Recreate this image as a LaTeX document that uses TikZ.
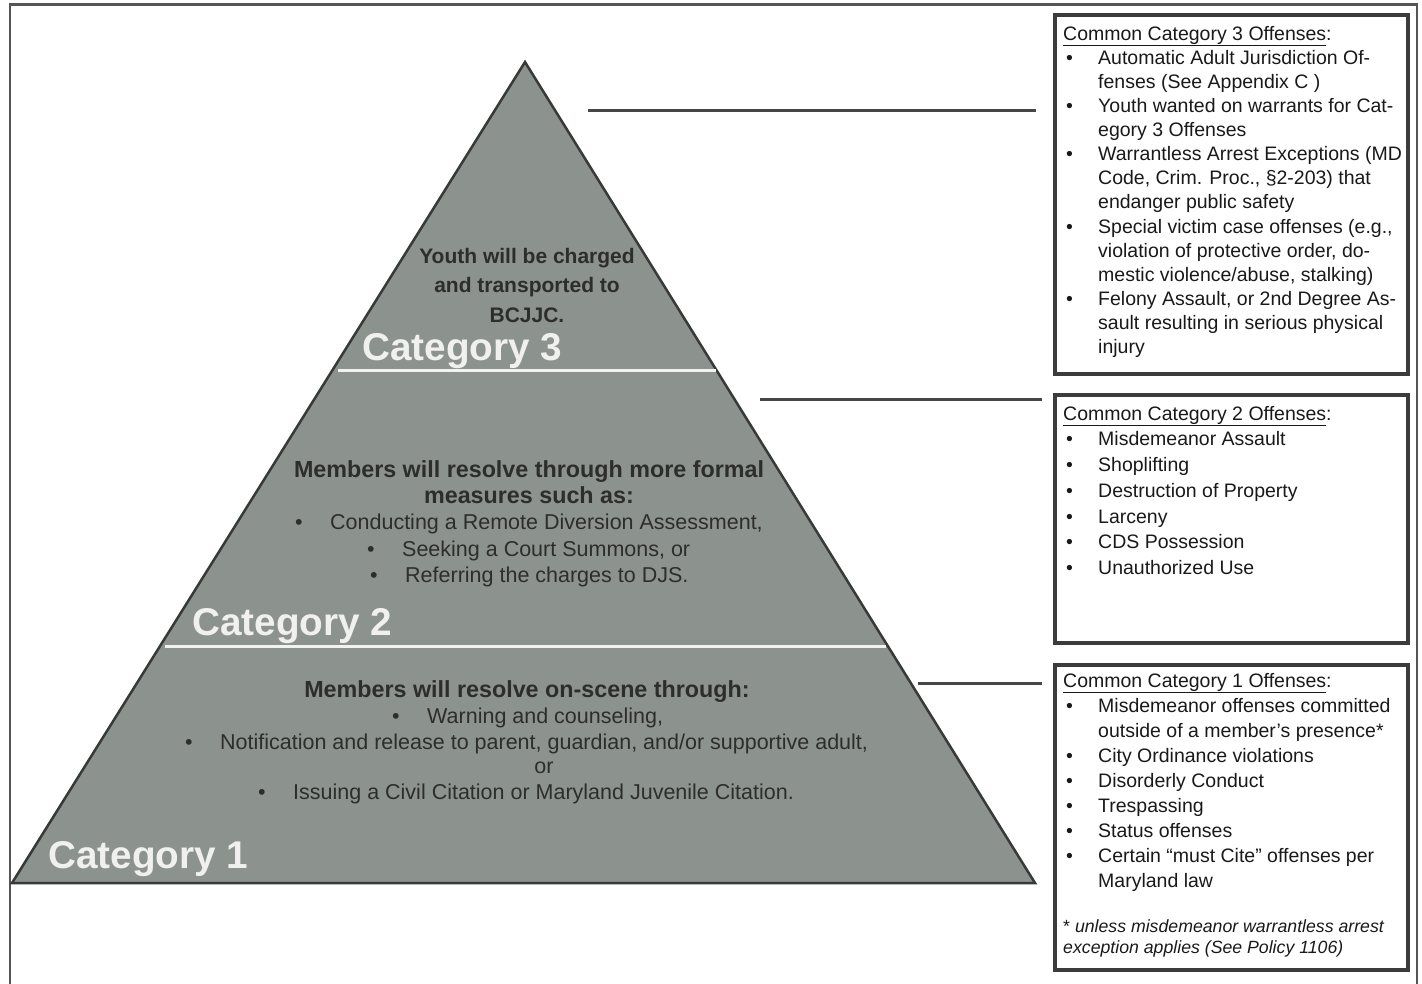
\documentclass[tikz,border=0pt]{standalone}
\usepackage{fontspec}
\setmainfont{Liberation Sans}
\definecolor{pyrfill}{RGB}{140,146,141}
\definecolor{pyredge}{RGB}{55,58,56}
\definecolor{connc}{RGB}{70,70,70}
\definecolor{boxc}{RGB}{60,60,60}
\definecolor{framec}{RGB}{85,85,85}
\definecolor{ptc}{RGB}{45,45,45}
\definecolor{btc}{RGB}{25,25,25}
\newcommand\bbul{\makebox[35pt][l]{\hspace{3pt}\textbullet}}
\newcommand\bind{\hspace*{35pt}}
\newcommand\pbul{\makebox[35pt][l]{\textbullet}}
\begin{document}
\begin{tikzpicture}[x=1pt,y=-1pt,
  pyr/.style={fill=pyrfill, draw=pyredge, line width=2.5pt, line join=miter},
  divider/.style={draw=white!95!black, line width=3pt},
  conn/.style={draw=connc, line width=3pt},
  offbox/.style={draw=boxc, line width=3.8pt},
  frame/.style={draw=framec, line width=2.3pt},
  cat/.style={text=white!94!black, font=\bfseries\fontsize{38.7}{40}\selectfont, anchor=base west, inner sep=0},
  phead/.style={text=ptc, font=\bfseries\fontsize{23.3}{26}\selectfont, align=center, anchor=north, inner sep=0},
  pitem/.style={text=ptc, font=\fontsize{21.5}{26}\selectfont, anchor=base west, inner sep=0},
  btext/.style={text=btc, align=left, anchor=north west, inner sep=0},
]
\useasboundingbox (0,0) rectangle (1422,983);
\clip (0,0) rectangle (1422,983);
% outer frame
\draw[frame] (10,4.5) rectangle (1417,1000);
% pyramid
\coordinate (apex) at (525,62);
\coordinate (bl) at (12,883);
\coordinate (br) at (1035,883);
\path[pyr] (apex) -- (br) -- (bl) -- cycle;
\coordinate (d3a) at (338,370);
\coordinate (d3b) at (716,370);
\coordinate (d2a) at (165,646);
\coordinate (d2b) at (886,646);
\draw[divider] (d3a) -- (d3b);
\draw[divider] (d2a) -- (d2b);
% category labels
\node[cat] (cat3) at (362,360) {Category 3};
\node[cat] (cat2) at (192,635) {Category 2};
\node[cat] (cat1) at (48,868) {Category 1};
% tier 3 text
\node[phead, font=\bfseries\fontsize{21}{29.5}\selectfont] (t3) at (527,246) {\rule{0pt}{17pt}Youth will be charged\\and transported to\\BCJJC.};
% tier 2 text
\node[phead] (t2h) at (529,458) {\rule{0pt}{19pt}Members will resolve through more formal\\measures such as:};
\node[pitem] (t2a) at (295,529) {\pbul Conducting a Remote Diversion Assessment,};
\node[pitem] (t2b) at (367,556) {\pbul Seeking a Court Summons, or};
\node[pitem] (t2c) at (370,582) {\pbul Referring the charges to DJS.};
% tier 1 text
\node[phead] (t1h) at (527,678) {\rule{0pt}{19pt}Members will resolve on-scene through:};
\node[pitem] (t1a) at (392,723) {\pbul Warning and counseling,};
\node[pitem] (t1b) at (185,749) {\pbul Notification and release to parent, guardian, and/or supportive adult,};
\node[pitem, anchor=base] (t1or) at (544,773) {or};
\node[pitem] (t1c) at (258,799) {\pbul Issuing a Civil Citation or Maryland Juvenile Citation.};
% offense boxes
\draw[offbox] (1055,15) rectangle (1408,374);
\draw[offbox] (1055,395) rectangle (1408,643);
\draw[offbox] (1055,665) rectangle (1408,970);
\node[btext, font=\fontsize{19.5}{24.1}\selectfont] (b3) at (1063,24) {\rule{0pt}{16pt}\underline{Common Category 3 Offenses}:\\
\bbul Automatic Adult Jurisdiction Of-\\
\bind fenses (See Appendix C )\\
\bbul Youth wanted on warrants for Cat-\\
\bind egory 3 Offenses\\
\bbul Warrantless Arrest Exceptions (MD\\
\bind Code, Crim. Proc., §2-203) that\\
\bind endanger public safety\\
\bbul Special victim case offenses (e.g.,\\
\bind violation of protective order, do-\\
\bind mestic violence/abuse, stalking)\\
\bbul Felony Assault, or 2nd Degree As-\\
\bind sault resulting in serious physical\\
\bind injury};
\node[btext, font=\fontsize{19.5}{25.7}\selectfont] (b2) at (1063,404) {\rule{0pt}{16pt}\underline{Common Category 2 Offenses}:\\
\bbul Misdemeanor Assault\\
\bbul Shoplifting\\
\bbul Destruction of Property\\
\bbul Larceny\\
\bbul CDS Possession\\
\bbul Unauthorized Use};
\node[btext, font=\fontsize{19.5}{25}\selectfont] (b1) at (1063,671) {\rule{0pt}{16pt}\underline{Common Category 1 Offenses}:\\
\bbul Misdemeanor offenses committed\\
\bind outside of a member’s presence*\\
\bbul City Ordinance violations\\
\bbul Disorderly Conduct\\
\bbul Trespassing\\
\bbul Status offenses\\
\bbul Certain “must Cite” offenses per\\
\bind Maryland law};
\node[btext, font=\fontsize{17.7}{21}\selectfont] (b1note) at (1063,917) {\rule{0pt}{15pt}* \textit{unless misdemeanor warrantless arrest}\\\textit{exception applies (See Policy 1106)}};
% connectors
\coordinate (c3a) at (588,110);
\coordinate (c3b) at (1036,110);
\coordinate (c2a) at (760,399);
\coordinate (c2b) at (1042,399);
\coordinate (c1a) at (918,683);
\coordinate (c1b) at (1042,683);
\draw[conn] (c3a) -- (c3b);
\draw[conn] (c2a) -- (c2b);
\draw[conn] (c1a) -- (c1b);
\end{tikzpicture}
\end{document}
